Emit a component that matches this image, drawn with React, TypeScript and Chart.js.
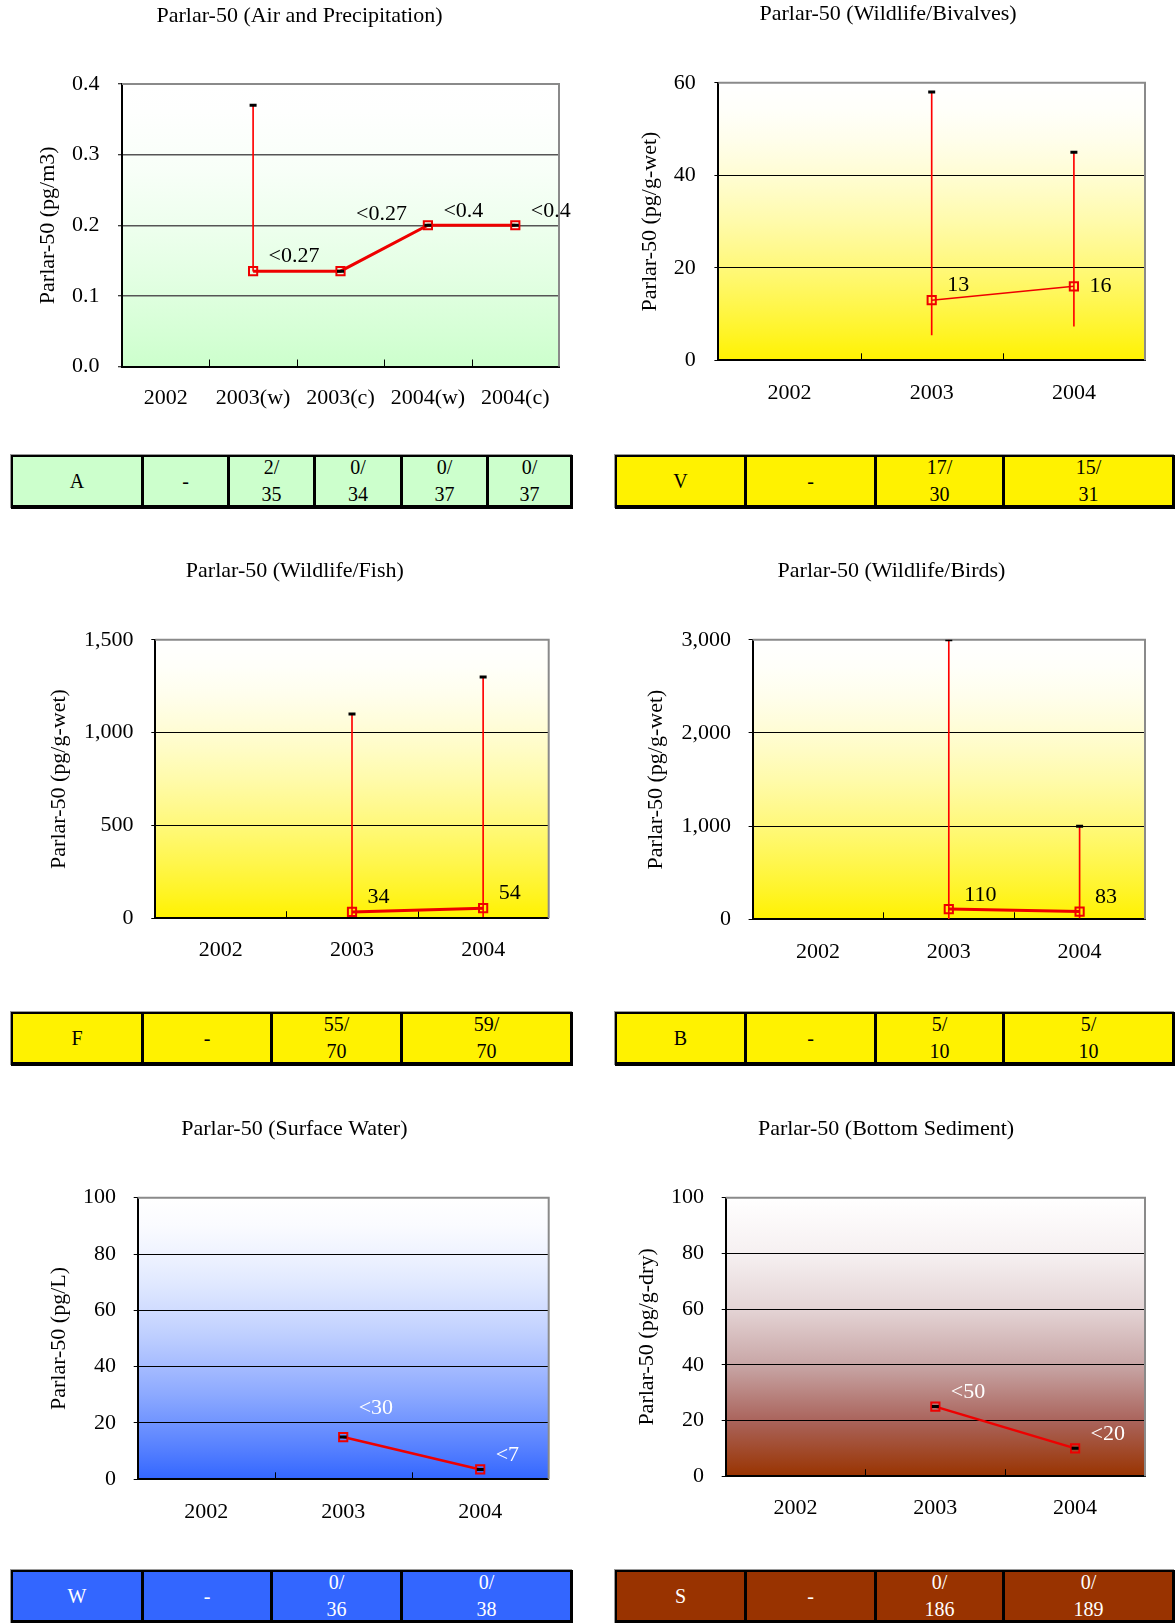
import React, { useEffect, useRef } from "react";
import { Chart, registerables } from "chart.js";

Chart.register(...registerables);
Chart.defaults.font.family = "'Liberation Serif', 'Times New Roman', serif";
Chart.defaults.color = "#000";

// ---------------- DATA ----------------
const AIR_CATEGORIES = ["2002", "2003(w)", "2003(c)", "2004(w)", "2004(c)"];
const YEAR_CATEGORIES = ["2002", "2003", "2004"];

const AIR_VALUES = [null, 0.135, 0.135, 0.2, 0.2];
const AIR_MAX = [null, 0.37, 0.135, 0.2, 0.2];
const AIR_MIN = [null, 0.135, null, null, null];
const AIR_LABELS = ["", "<0.27", "<0.27", "<0.4", "<0.4"];

const BIVALVE_VALUES = [null, 13, 16];
const BIVALVE_MAX = [null, 58, 45];
const BIVALVE_MIN = [null, 5.5, 7.4];
const BIVALVE_LABELS = ["", "13", "16"];

const FISH_VALUES = [null, 34, 54];
const FISH_MAX = [null, 1100, 1300];
const FISH_MIN = [null, 8, 8];
const FISH_LABELS = ["", "34", "54"];

const BIRD_VALUES = [null, 110, 83];
const BIRD_MAX = [null, 3000, 1000];
const BIRD_MIN = [null, 8, 15];
const BIRD_LABELS = ["", "110", "83"];

const WATER_VALUES = [null, 15, 3.5];
const WATER_MAX = [null, 15, 3.5];
const WATER_MIN = [null, null, null];
const WATER_LABELS = ["", "<30", "<7"];

const SEDIMENT_VALUES = [null, 25, 10];
const SEDIMENT_MAX = [null, 25, 10];
const SEDIMENT_MIN = [null, null, null];
const SEDIMENT_LABELS = ["", "<50", "<20"];

const TABLE_AIR = ["A", "-", "2/\n35", "0/\n34", "0/\n37", "0/\n37"];
const TABLE_BIVALVE = ["V", "-", "17/\n30", "15/\n31"];
const TABLE_FISH = ["F", "-", "55/\n70", "59/\n70"];
const TABLE_BIRD = ["B", "-", "5/\n10", "5/\n10"];
const TABLE_WATER = ["W", "-", "0/\n36", "0/\n38"];
const TABLE_SEDIMENT = ["S", "-", "0/\n186", "0/\n189"];

// ---------------- STYLE / LAYOUT ----------------
const RED = "#EE0000";
const FONT = "'Liberation Serif', 'Times New Roman', serif";
const FS = 22;

type Layout = {
  x: number; y: number; w: number; h: number;
  plotLeft: number; plotRight: number; plotTop: number; plotBottom: number;
  titleY: number; yTitleX: number; tickRight: number; xLabelY: number;
};

type Spec = {
  title: string; yTitle: string; categories: string[];
  values: (number | null)[]; max: (number | null)[]; min: (number | null)[];
  labels: string[]; labelDy: number[]; labelColor: string;
  yMin: number; yMax: number; yStep: number; decimals?: number;
  stops: [number, string][];
  gridColor: string; gridWidth: number; lineWidth: number;
  layout: Layout;
};

function powerStops(rgb: [number, number, number], p: number): [number, string][] {
  const out: [number, string][] = [];
  for (let k = 0; k <= 10; k++) {
    const t = k / 10;
    const f = Math.pow(t, p);
    const mix = (c: number) => Math.round(255 + (c - 255) * f);
    out.push([t, `rgb(${mix(rgb[0])},${mix(rgb[1])},${mix(rgb[2])})`]);
  }
  return out;
}

const GREEN_STOPS = powerStops([204, 255, 204], 1.6);
const YELLOW_STOPS = powerStops([255, 242, 0], 1.6);
const BLUE_STOPS = powerStops([51, 102, 255], 1.6);
const BROWN_STOPS: [number, string][] = [
  [0, "rgb(255,255,255)"],
  [0.2, "rgb(246,240,241)"],
  [0.4, "rgb(228,212,213)"],
  [0.6, "rgb(200,166,166)"],
  [0.8, "rgb(170,100,92)"],
  [1, "rgb(153,51,0)"],
];

const SPECS: Spec[] = [
  {
    title: "Parlar-50 (Air and Precipitation)", yTitle: "Parlar-50 (pg/m3)",
    categories: AIR_CATEGORIES, values: AIR_VALUES, max: AIR_MAX, min: AIR_MIN,
    labels: AIR_LABELS, labelDy: [0, -15, -57, -14.5, -14.5], labelColor: "#000",
    yMin: 0, yMax: 0.4, yStep: 0.1, decimals: 1,
    stops: GREEN_STOPS, gridColor: "#555", gridWidth: 1.5, lineWidth: 3,
    layout: { x: 40, y: 0, w: 549, h: 417, plotLeft: 122, plotRight: 559, plotTop: 84, plotBottom: 366.5, titleY: 16.6, yTitleX: 48.5, tickRight: 99.4, xLabelY: 398.6 },
  },
  {
    title: "Parlar-50 (Wildlife/Bivalves)", yTitle: "Parlar-50 (pg/g-wet)",
    categories: YEAR_CATEGORIES, values: BIVALVE_VALUES, max: BIVALVE_MAX, min: BIVALVE_MIN,
    labels: BIVALVE_LABELS, labelDy: [0, -14.5, 0], labelColor: "#000",
    yMin: 0, yMax: 60, yStep: 20,
    stops: YELLOW_STOPS, gridColor: "#000", gridWidth: 1, lineWidth: 1.6,
    layout: { x: 631, y: 0, w: 544, h: 411, plotLeft: 718.4, plotRight: 1145, plotTop: 82.8, plotBottom: 360.3, titleY: 14.5, yTitleX: 650.5, tickRight: 695.7, xLabelY: 393.4 },
  },
  {
    title: "Parlar-50 (Wildlife/Fish)", yTitle: "Parlar-50 (pg/g-wet)",
    categories: YEAR_CATEGORIES, values: FISH_VALUES, max: FISH_MAX, min: FISH_MIN,
    labels: FISH_LABELS, labelDy: [0, -14.5, -14.5], labelColor: "#000",
    yMin: 0, yMax: 1500, yStep: 500,
    stops: YELLOW_STOPS, gridColor: "#000", gridWidth: 1, lineWidth: 3,
    layout: { x: 41, y: 556, w: 538, h: 412, plotLeft: 155.3, plotRight: 548.7, plotTop: 639.8, plotBottom: 918.2, titleY: 571.4, yTitleX: 59.5, tickRight: 133.5, xLabelY: 950.3 },
  },
  {
    title: "Parlar-50 (Wildlife/Birds)", yTitle: "Parlar-50 (pg/g-wet)",
    categories: YEAR_CATEGORIES, values: BIRD_VALUES, max: BIRD_MAX, min: BIRD_MIN,
    labels: BIRD_LABELS, labelDy: [0, -13.5, -14.5], labelColor: "#000",
    yMin: 0, yMax: 3000, yStep: 1000,
    stops: YELLOW_STOPS, gridColor: "#000", gridWidth: 1, lineWidth: 3,
    layout: { x: 638, y: 556, w: 537, h: 412, plotLeft: 752.6, plotRight: 1145, plotTop: 639.8, plotBottom: 919.3, titleY: 571.4, yTitleX: 656.5, tickRight: 730.9, xLabelY: 952.4 },
  },
  {
    title: "Parlar-50 (Surface Water)", yTitle: "Parlar-50 (pg/L)",
    categories: YEAR_CATEGORIES, values: WATER_VALUES, max: WATER_MAX, min: WATER_MIN,
    labels: WATER_LABELS, labelDy: [0, -28.5, -14], labelColor: "#fff",
    yMin: 0, yMax: 100, yStep: 20,
    stops: BLUE_STOPS, gridColor: "#000", gridWidth: 1, lineWidth: 2.5,
    layout: { x: 40, y: 1114, w: 539, h: 416, plotLeft: 137.7, plotRight: 548.7, plotTop: 1197.7, plotBottom: 1479.3, titleY: 1129.4, yTitleX: 59.5, tickRight: 116, xLabelY: 1512.4 },
  },
  {
    title: "Parlar-50 (Bottom Sediment)", yTitle: "Parlar-50 (pg/g-dry)",
    categories: YEAR_CATEGORIES, values: SEDIMENT_VALUES, max: SEDIMENT_MAX, min: SEDIMENT_MIN,
    labels: SEDIMENT_LABELS, labelDy: [0, -14.5, -14], labelColor: "#fff",
    yMin: 0, yMax: 100, yStep: 20,
    stops: BROWN_STOPS, gridColor: "#000", gridWidth: 1, lineWidth: 2.5,
    layout: { x: 627, y: 1114, w: 548, h: 416, plotLeft: 725.7, plotRight: 1145, plotTop: 1197.7, plotBottom: 1476.2, titleY: 1129.4, yTitleX: 647.5, tickRight: 704, xLabelY: 1508.3 },
  },
];

type TableSpec = { cells: string[]; bounds: number[]; top: number; bg: string; fg: string };
const TABLES: TableSpec[] = [
  { cells: TABLE_AIR, bounds: [11, 141, 227, 313, 400, 486, 573], top: 455, bg: "#CCFFCC", fg: "#000" },
  { cells: TABLE_BIVALVE, bounds: [615, 744, 874, 1002, 1175], top: 455, bg: "#FFF200", fg: "#000" },
  { cells: TABLE_FISH, bounds: [11, 141, 270, 400, 573], top: 1012, bg: "#FFF200", fg: "#000" },
  { cells: TABLE_BIRD, bounds: [615, 744, 874, 1002, 1175], top: 1012, bg: "#FFF200", fg: "#000" },
  { cells: TABLE_WATER, bounds: [11, 141, 270, 400, 573], top: 1570, bg: "#3366FF", fg: "#fff" },
  { cells: TABLE_SEDIMENT, bounds: [615, 744, 874, 1002, 1175], top: 1570, bg: "#993300", fg: "#fff" },
];

function buildConfig(spec: Spec): any {
  const L = spec.layout;
  const yAxisWidth = L.plotLeft - L.x;
  const yTitlePadTop = L.yTitleX - L.x - FS * 0.6;
  const yTickLen = 4;
  const yTickPad = L.plotLeft - L.tickRight - yTickLen;
  const padRight = L.x + L.w - L.plotRight;
  const titlePadTop = L.titleY - L.y - FS * 0.6;
  const titlePadBottom = L.plotTop - L.y - FS * 1.2 - titlePadTop;
  const xAxisHeight = L.y + L.h - L.plotBottom;
  const xTickPad = L.xLabelY - L.plotBottom - FS * 0.6;

  const ranges = spec.min.map((m, i) => {
    const mx = spec.max[i];
    return m == null || mx == null ? null : [m, mx];
  });

  const bgPlugin = {
    id: "bgGradient",
    beforeDraw(chart: any) {
      const { ctx, chartArea } = chart;
      const { left, top, right, bottom } = chartArea;
      const g = ctx.createLinearGradient(0, top, 0, bottom);
      spec.stops.forEach(([t, c]) => g.addColorStop(t, c));
      ctx.save();
      ctx.fillStyle = g;
      ctx.fillRect(left, top, right - left, bottom - top);
      ctx.restore();
    },
  };

  const framePlugin = {
    id: "frame",
    beforeDatasetsDraw(chart: any) {
      const { ctx, chartArea, scales } = chart;
      const { left, top, right, bottom } = chartArea;
      ctx.save();
      ctx.strokeStyle = "#8a8a8a";
      ctx.lineWidth = 2;
      ctx.beginPath();
      ctx.moveTo(left, top);
      ctx.lineTo(right, top);
      ctx.lineTo(right, bottom);
      ctx.stroke();
      const xs = scales.x;
      ctx.strokeStyle = "#000";
      ctx.lineWidth = 1;
      for (let i = 1; i < spec.categories.length; i++) {
        const px = Math.round((xs.getPixelForValue(i - 1) + xs.getPixelForValue(i)) / 2) + 0.5;
        ctx.beginPath();
        ctx.moveTo(px, bottom);
        ctx.lineTo(px, bottom - 7);
        ctx.stroke();
      }
      ctx.restore();
    },
  };

  const labelPlugin = {
    id: "valueLabels",
    afterDatasetsDraw(chart: any) {
      const { ctx, scales } = chart;
      ctx.save();
      ctx.font = `${FS}px ${FONT}`;
      ctx.fillStyle = spec.labelColor;
      ctx.textAlign = "left";
      ctx.textBaseline = "middle";
      spec.labels.forEach((lab, i) => {
        const v = spec.values[i];
        if (!lab || v == null) return;
        const px = scales.x.getPixelForValue(i) + 15.5;
        const py = scales.y.getPixelForValue(v) + spec.labelDy[i];
        ctx.fillText(lab, px, py);
      });
      ctx.restore();
    },
  };

  return {
    type: "line",
    data: {
      labels: spec.categories,
      datasets: [
        {
          type: "line",
          data: spec.max,
          showLine: false,
          pointStyle: "line",
          pointRadius: 3.5,
          pointBorderWidth: 3,
          pointBorderColor: "#000",
          borderColor: "#000",
          order: 1,
        },
        {
          type: "line",
          data: spec.values,
          borderColor: RED,
          borderWidth: spec.lineWidth,
          pointStyle: "rect",
          pointRadius: 5.8,
          pointBorderWidth: 2,
          pointBorderColor: RED,
          pointBackgroundColor: "rgba(0,0,0,0)",
          order: 2,
        },
        {
          type: "bar",
          data: ranges,
          backgroundColor: "#FF0000",
          barThickness: 1,
          order: 3,
        },
      ],
    },
    options: {
      responsive: false,
      animation: false,
      devicePixelRatio: 1,
      events: [],
      layout: { padding: { left: 0, right: padRight, top: 0, bottom: 0 } },
      plugins: {
        legend: { display: false },
        tooltip: { enabled: false },
        title: {
          display: true,
          text: spec.title,
          color: "#000",
          font: { size: FS, weight: "normal", family: FONT },
          padding: { top: titlePadTop, bottom: titlePadBottom },
        },
      },
      scales: {
        x: {
          type: "category",
          offset: true,
          grid: { display: false, drawTicks: false, offset: true },
          border: { display: true, color: "#000", width: 2 },
          ticks: { padding: xTickPad, font: { size: FS }, color: "#000", maxRotation: 0, autoSkip: false },
          afterFit: (s: any) => { s.height = xAxisHeight; },
        },
        y: {
          type: "linear",
          min: spec.yMin,
          max: spec.yMax,
          ticks: {
            stepSize: spec.yStep,
            padding: yTickPad,
            font: { size: FS },
            color: "#000",
            callback: spec.decimals != null
              ? (v: any) => Number(v).toFixed(spec.decimals)
              : (v: any) => Number(v).toLocaleString("en-US"),
          },
          grid: { color: spec.gridColor, lineWidth: spec.gridWidth, drawTicks: true, tickLength: yTickLen, tickColor: "#000", tickWidth: 1 },
          border: { display: true, color: "#000", width: 2 },
          title: {
            display: true,
            text: spec.yTitle,
            color: "#000",
            font: { size: FS, family: FONT },
            padding: { top: yTitlePadTop, bottom: 0 },
          },
          afterFit: (s: any) => { s.width = yAxisWidth; },
        },
      },
    },
    plugins: [bgPlugin, framePlugin, labelPlugin],
  };
}

function ChartPanel({ spec }: { spec: Spec }) {
  const ref = useRef<HTMLCanvasElement>(null);
  useEffect(() => {
    if (!ref.current) return;
    const chart = new Chart(ref.current, buildConfig(spec));
    return () => chart.destroy();
  }, [spec]);
  const L = spec.layout;
  return (
    <canvas
      ref={ref}
      width={L.w}
      height={L.h}
      style={{ position: "absolute", left: L.x, top: L.y, width: L.w, height: L.h }}
    />
  );
}

function DetectionTable({ t }: { t: TableSpec }) {
  const left = t.bounds[0];
  const right = t.bounds[t.bounds.length - 1];
  const bl = 2, br = 3;
  return (
    <div
      style={{
        position: "absolute",
        left,
        top: t.top,
        width: right - left,
        height: 54,
        boxSizing: "border-box",
        display: "flex",
        background: t.bg,
        borderStyle: "solid",
        borderColor: "#000",
        borderWidth: `${bl}px ${br}px ${br + 1}px ${bl}px`,
        boxShadow: "-1px -1px 0 #9a9a9a",
      }}
    >
      {t.cells.map((c, i) => {
        let w = t.bounds[i + 1] - t.bounds[i];
        if (i === 0) w -= bl;
        if (i === t.cells.length - 1) w -= br;
        return (
          <div
            key={i}
            style={{
              width: w,
              flex: "none",
              boxSizing: "border-box",
              borderLeft: i ? "3px solid #000" : "none",
              display: "flex",
              flexDirection: "column",
              justifyContent: "center",
              alignItems: "center",
              color: t.fg,
              fontFamily: FONT,
              fontSize: 20,
              lineHeight: "27px",
            }}
          >
            {c.split("\n").map((line, k) => (
              <span key={k}>{line}</span>
            ))}
          </div>
        );
      })}
    </div>
  );
}

export default function App() {
  return (
    <div
      style={{
        position: "absolute",
        left: 0,
        top: 0,
        width: 1176,
        height: 1623,
        overflow: "hidden",
        background: "#fff",
      }}
    >
      {SPECS.map((s, i) => (
        <ChartPanel key={i} spec={s} />
      ))}
      {TABLES.map((t, i) => (
        <DetectionTable key={i} t={t} />
      ))}
    </div>
  );
}
